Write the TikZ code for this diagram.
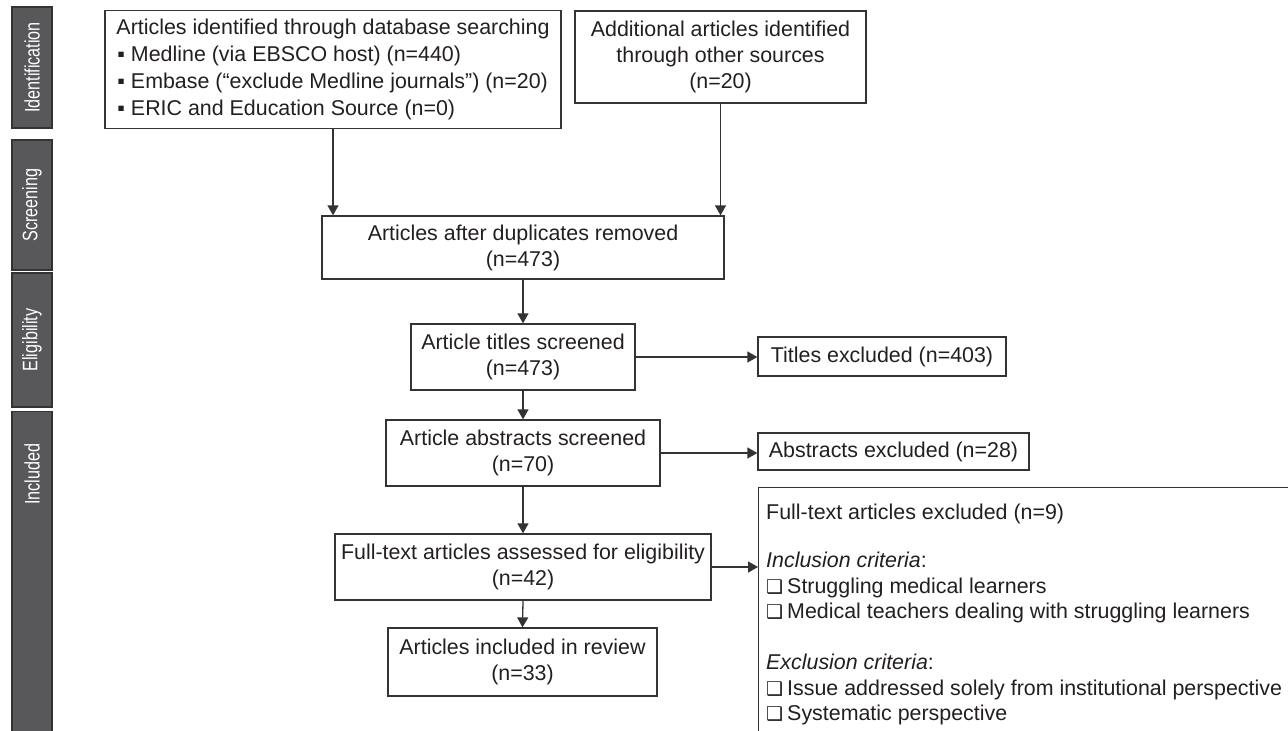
\documentclass[tikz,border=0pt]{standalone}
\usepackage{fontspec}
\setmainfont{Liberation Sans}
\newfontfamily\dejavu{DejaVu Sans}
\usetikzlibrary{arrows.meta}
\definecolor{ink}{HTML}{231F20}
\definecolor{barfill}{HTML}{58585A}
\definecolor{edge}{HTML}{333333}
\newcommand{\chkbox}{{\dejavu\fontsize{19}{19}\selectfont ❑}\hspace{4pt}}
\newcommand{\barlabel}[1]{\rotatebox{90}{\scalebox{0.77}[1]{#1}}}
\begin{document}
\begin{tikzpicture}[x=1pt,y=-1pt,
  box/.style={draw=edge, line width=1.3pt, text=ink, font=\fontsize{21.4}{26}\selectfont, align=center, inner sep=0pt},
  bar/.style={draw=edge, fill=barfill, line width=1.2pt, text=white, font=\fontsize{21}{23}\selectfont, minimum width=40pt, inner sep=0pt},
  arr/.style={draw=edge, line width=1.3pt, -{Triangle[length=10pt,width=11pt]}}]
\useasboundingbox (0,0) rectangle (1288,731);
\clip (0,0) rectangle (1288,731);

% side bars
\node[bar, minimum height=121pt] (idf) at (32,67.5) {\barlabel{Identification}};
\node[bar, minimum height=130pt] (scr) at (32,205) {\barlabel{Screening}};
\node[bar, minimum height=134pt] (elg) at (32,340) {\barlabel{Eligibility}};
\node[bar, minimum height=320pt, anchor=north] (inc) at (32,411) {};
\node[text=white, font=\fontsize{21}{23}\selectfont, inner sep=0pt] (inct) at (32,474) {\barlabel{Included}};

% main boxes
\node[box, align=left, minimum width=456pt, minimum height=118pt, font=\fontsize{21.4}{26.8}\selectfont] (db) at (333,69.5)
 {Articles identified through database searching\\
  \hspace*{1pt}▪ Medline (via EBSCO host) (n=440)\\
  \hspace*{1pt}▪ Embase (“exclude Medline journals”) (n=20)\\
  \hspace*{1pt}▪ ERIC and Education Source (n=0)};
\node[box, minimum width=291pt, minimum height=92pt] (oth) at (720.5,57)
 {Additional articles identified\\ through other sources\\ (n=20)};
\node[box, minimum width=402pt, minimum height=63pt] (dup) at (523,247.5)
 {Articles after duplicates removed\\ (n=473)};
\node[box, minimum width=224pt, minimum height=66pt] (tit) at (523,357)
 {Article titles screened\\ (n=473)};
\node[box, minimum width=274pt, minimum height=66pt] (abs) at (523,453)
 {Article abstracts screened\\ (n=70)};
\node[box, minimum width=376pt, minimum height=66pt] (ful) at (523,567)
 {Full-text articles assessed for eligibility\\ (n=42)};
\node[box, minimum width=269pt, minimum height=68pt] (rev) at (522.5,662)
 {Articles included in review\\ (n=33)};

% exclusion boxes
\node[box, minimum width=248pt, minimum height=39pt] (tex) at (882,356.5) {Titles excluded (n=403)};
\node[box, minimum width=271pt, minimum height=37pt] (aex) at (893.5,451.5) {Abstracts excluded (n=28)};
\node[box, minimum width=600pt, minimum height=300pt, anchor=north west] (fex) at (758,487) {};
\node[anchor=north west, inner sep=0pt, align=left, text=ink, font=\fontsize{21.4}{25.5}\selectfont] (fext) at (766,504)
 {Full-text articles excluded (n=9)\\[22.5pt]
  \textit{Inclusion criteria}:\\
  \chkbox Struggling medical learners\\
  \chkbox Medical teachers dealing with struggling learners\\[25.5pt]
  \textit{Exclusion criteria}:\\
  \chkbox Issue addressed solely from institutional perspective\\
  \chkbox Systematic perspective};

% connectors
\draw[arr] (db.south) -- (db.south |- dup.north);
\draw[arr] (oth.south) -- (oth.south |- dup.north);
\draw[arr] (dup.south) -- (tit.north);
\draw[arr] (tit.south) -- (abs.north);
\draw[arr] (abs.south) -- (ful.north);
\draw[arr] (ful.south) -- (rev.north);
\draw[arr] (tit.east) -- (tit.east -| tex.west);
\draw[arr] (abs.east) -- (abs.east -| aex.west);
\draw[arr] (ful.east) -- (ful.east -| fex.west);
\end{tikzpicture}
\end{document}
